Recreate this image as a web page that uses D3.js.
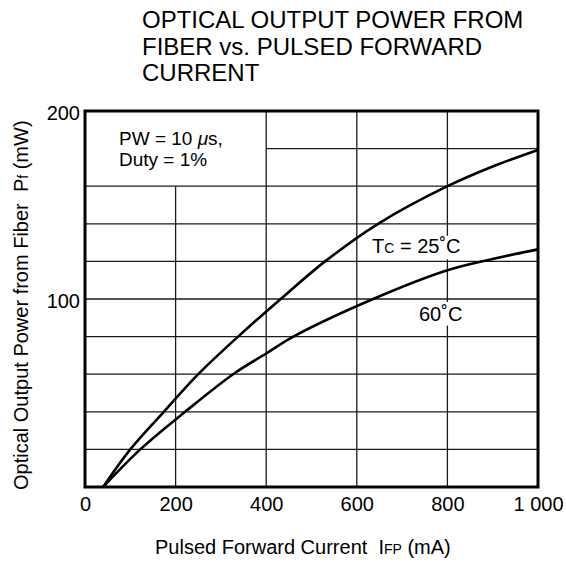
<!DOCTYPE html>
<html>
<head>
<meta charset="utf-8">
<script src="https://cdn.jsdelivr.net/npm/d3@7/dist/d3.min.js"></script>
<style>
  html, body { margin: 0; padding: 0; background: #fff; }
  svg { display: block; font-family: "Liberation Sans", Arial, Helvetica, sans-serif; }
  text { white-space: pre; }
</style>
</head>
<body>
<svg id="chart" width="566" height="563"></svg>
<script>
// ---- data ----
const titleLines = ["OPTICAL OUTPUT POWER FROM", "FIBER vs. PULSED FORWARD", "CURRENT"];
const xTicks = [0, 200, 400, 600, 800, 1000];
const xTickLabels = ["0", "200", "400", "600", "800", "1 000"];
const yTicks = [100, 200];
const yTickLabels = ["100", "200"];
const xGrid = [200, 400, 600, 800];
const yGrid = [20, 40, 60, 80, 100, 120, 140, 160, 180];

// current (mA) and optical power (mW)
const tc25Current = [40, 100, 174, 250, 338, 432, 530, 647, 800, 900, 1000];
const tc25Power   = [0, 20, 40, 60, 80, 100, 120, 140, 160, 170.5, 179.3];
const tc60Current = [40, 122, 221, 327, 400, 460, 636, 800, 900, 1000];
const tc60Power   = [0, 20, 40, 60, 71, 80, 100, 115.3, 121.3, 126.4];

// ---- layout ----
const svg = d3.select("#chart");
const m = { left: 85, right: 28, top: 111, bottom: 76 };
const W = 566, H = 563;
const x = d3.scaleLinear().domain([0, 1000]).range([m.left, W - m.right]);
const y = d3.scaleLinear().domain([0, 200]).range([H - m.bottom, m.top]);

// title
svg.append("g").selectAll("text").data(titleLines).join("text")
  .attr("x", 142).attr("y", (d, i) => 28 + i * 26.5)
  .attr("font-size", 24).attr("fill", "#000").text(d => d);

// grid
const grid = svg.append("g").attr("stroke", "#1a1a1a").attr("stroke-width", 1.3);
grid.selectAll("line.v").data(xGrid).join("line").attr("class", "v")
  .attr("x1", d => x(d)).attr("x2", d => x(d))
  .attr("y1", y(0)).attr("y2", d => d === 200 ? y(160) : y(200));
grid.selectAll("line.h").data(yGrid).join("line").attr("class", "h")
  .attr("y1", d => y(d)).attr("y2", d => y(d))
  .attr("x1", d => d === 180 ? x(400) : x(0)).attr("x2", x(1000));

// white backing for curve labels (interrupts the 800 grid line)
svg.append("rect").attr("x", x(800) - 6).attr("y", y(140) + 12).attr("width", 12).attr("height", y(120) - y(140) - 14).attr("fill", "#fff");
svg.append("rect").attr("x", x(800) - 6).attr("y", y(100) + 3).attr("width", 12).attr("height", y(80) - y(100) - 14).attr("fill", "#fff");

// curves
const line = d3.line().x(d => x(d[0])).y(d => y(d[1])).curve(d3.curveCatmullRom.alpha(0.5));
const s25 = tc25Current.map((c, i) => [c, tc25Power[i]]);
const s60 = tc60Current.map((c, i) => [c, tc60Power[i]]);
[s25, s60].forEach(s => {
  svg.append("path").datum(s).attr("d", line)
    .attr("fill", "none").attr("stroke", "#000").attr("stroke-width", 2.6)
    .attr("stroke-linejoin", "round");
});

// frame
svg.append("rect").attr("x", x(0)).attr("y", y(200))
  .attr("width", x(1000) - x(0)).attr("height", y(0) - y(200))
  .attr("fill", "none").attr("stroke", "#000").attr("stroke-width", 3);

// x axis tick labels
const xAxis = d3.axisBottom(x).tickValues(xTicks).tickSize(0).tickPadding(0)
  .tickFormat((d, i) => xTickLabels[i]);
const gx = svg.append("g").attr("transform", `translate(0,${y(0)})`).call(xAxis);
gx.select(".domain").remove();
gx.selectAll("text").attr("font-size", 20).attr("fill", "#000")
  .attr("font-family", "Liberation Sans, Arial, sans-serif")
  .attr("dy", null).attr("y", 24);

// y axis tick labels
const yAxis = d3.axisLeft(y).tickValues(yTicks).tickSize(0).tickPadding(5)
  .tickFormat((d, i) => yTickLabels[i]);
const gy = svg.append("g").attr("transform", `translate(${x(0)},0)`).call(yAxis);
gy.select(".domain").remove();
gy.selectAll("text").attr("font-size", 20).attr("fill", "#000")
  .attr("font-family", "Liberation Sans, Arial, sans-serif").attr("dy", "0.4em");

// note box text
const note = svg.append("g").attr("font-size", 19).attr("fill", "#000");
const n1 = note.append("text").attr("x", 119).attr("y", 145);
n1.append("tspan").text("PW = 10 ");
n1.append("tspan").attr("font-style", "italic").text("μ");
n1.append("tspan").text("s,");
note.append("text").attr("x", 119).attr("y", 166).text("Duty = 1%");

// curve labels
const l25 = svg.append("text").attr("x", 372).attr("y", 253).attr("font-size", 20).attr("fill", "#000");
l25.append("tspan").text("T");
l25.append("tspan").attr("font-size", 14).text("C");
l25.append("tspan").text(" = 25˚C");
svg.append("text").attr("x", 419).attr("y", 321).attr("font-size", 20).attr("fill", "#000").text("60˚C");

// x axis title
const xt = svg.append("text").attr("x", 155).attr("y", 554).attr("font-size", 20).attr("fill", "#000");
xt.append("tspan").text("Pulsed Forward Current  I");
xt.append("tspan").attr("font-size", 14).text("FP");
xt.append("tspan").text(" (mA)");

// y axis title
const yt = svg.append("text").attr("transform", "translate(28,490) rotate(-90)")
  .attr("font-size", 20).attr("fill", "#000");
yt.append("tspan").text("Optical Output Power from Fiber  P");
yt.append("tspan").attr("font-size", 14).text("f");
yt.append("tspan").text(" (mW)");
</script>
</body>
</html>
